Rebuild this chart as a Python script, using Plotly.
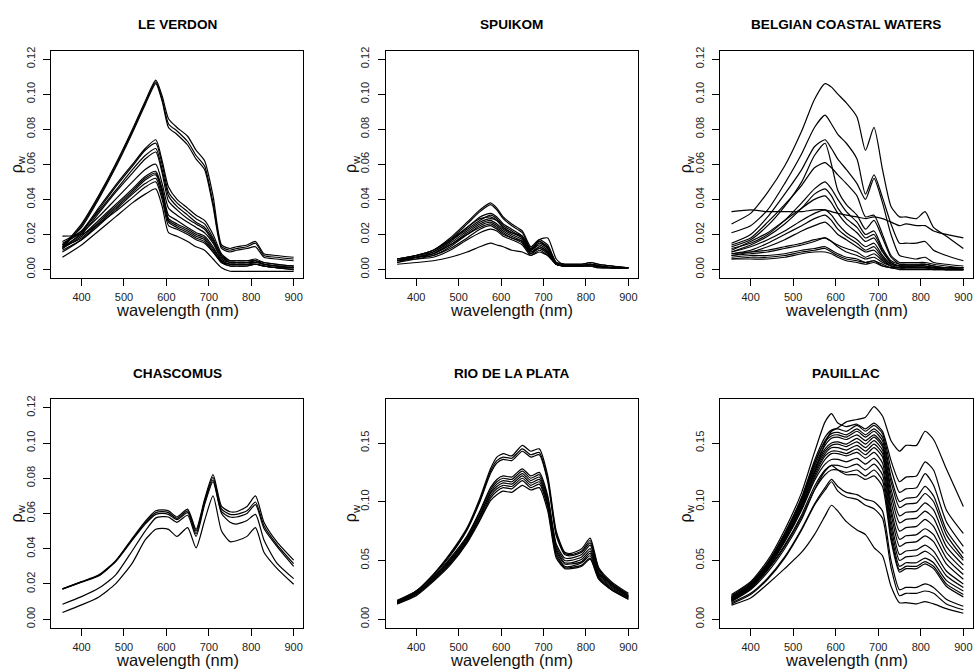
import plotly.graph_objects as go

# ---------------- data ----------------
WL = [355, 400, 440, 480, 520, 550, 575, 590, 605, 625, 650, 670, 690, 710, 730, 750, 765, 790, 810, 830, 860, 900]

TITLES = ["LE VERDON", "SPUIKOM", "BELGIAN COASTAL WATERS", "CHASCOMUS", "RIO DE LA PLATA", "PAUILLAC"]
X_TICKS = [400, 500, 600, 700, 800, 900]
Y_TICKS_LOW = [0.00, 0.02, 0.04, 0.06, 0.08, 0.10, 0.12]
Y_TICKS_HIGH = [0.00, 0.05, 0.10, 0.15]
X_LIM = [350, 900]
Y_LIM_LOW = [0.0, 0.12]
Y_LIM_HIGH = [0.0, 0.18]
X_TITLE = "wavelength (nm)"
Y_TITLE = "ρ<sub>w</sub>"

LE_VERDON = [
    [0.013, 0.026, 0.042, 0.060, 0.080, 0.096, 0.108, 0.099, 0.086, 0.081, 0.076, 0.068, 0.062, 0.042, 0.014, 0.012, 0.013, 0.014, 0.016, 0.009, 0.008, 0.007],
    [0.012, 0.025, 0.041, 0.059, 0.079, 0.095, 0.107, 0.097, 0.083, 0.079, 0.073, 0.065, 0.059, 0.038, 0.013, 0.011, 0.012, 0.013, 0.015, 0.008, 0.007, 0.006],
    [0.014, 0.024, 0.040, 0.058, 0.078, 0.094, 0.106, 0.096, 0.081, 0.077, 0.071, 0.063, 0.057, 0.036, 0.012, 0.010, 0.011, 0.012, 0.013, 0.007, 0.006, 0.005],
    [0.014, 0.022, 0.035, 0.048, 0.060, 0.069, 0.074, 0.062, 0.047, 0.040, 0.035, 0.031, 0.028, 0.020, 0.009, 0.005, 0.005, 0.005, 0.006, 0.004, 0.003, 0.002],
    [0.012, 0.021, 0.034, 0.047, 0.059, 0.068, 0.072, 0.060, 0.044, 0.038, 0.033, 0.029, 0.026, 0.018, 0.008, 0.005, 0.005, 0.005, 0.005, 0.004, 0.003, 0.002],
    [0.016, 0.022, 0.033, 0.045, 0.057, 0.065, 0.069, 0.057, 0.042, 0.036, 0.031, 0.027, 0.024, 0.017, 0.008, 0.004, 0.004, 0.004, 0.005, 0.003, 0.002, 0.002],
    [0.013, 0.020, 0.032, 0.044, 0.055, 0.063, 0.067, 0.055, 0.039, 0.034, 0.029, 0.026, 0.023, 0.016, 0.007, 0.004, 0.004, 0.004, 0.005, 0.003, 0.002, 0.001],
    [0.015, 0.021, 0.030, 0.040, 0.050, 0.057, 0.060, 0.049, 0.035, 0.031, 0.027, 0.024, 0.021, 0.015, 0.006, 0.004, 0.004, 0.004, 0.004, 0.003, 0.002, 0.001],
    [0.012, 0.019, 0.028, 0.037, 0.046, 0.053, 0.056, 0.046, 0.031, 0.028, 0.024, 0.021, 0.019, 0.013, 0.005, 0.003, 0.003, 0.003, 0.004, 0.003, 0.002, 0.001],
    [0.013, 0.018, 0.027, 0.036, 0.045, 0.052, 0.055, 0.045, 0.029, 0.026, 0.023, 0.020, 0.018, 0.012, 0.005, 0.003, 0.003, 0.003, 0.003, 0.002, 0.001, 0.001],
    [0.010, 0.017, 0.026, 0.035, 0.044, 0.051, 0.054, 0.044, 0.028, 0.025, 0.022, 0.019, 0.017, 0.011, 0.004, 0.003, 0.003, 0.003, 0.003, 0.002, 0.001, 0.001],
    [0.011, 0.017, 0.025, 0.034, 0.043, 0.049, 0.052, 0.042, 0.027, 0.024, 0.021, 0.018, 0.016, 0.010, 0.004, 0.002, 0.002, 0.002, 0.003, 0.002, 0.001, 0.000],
    [0.019, 0.020, 0.026, 0.033, 0.041, 0.047, 0.050, 0.040, 0.025, 0.023, 0.020, 0.017, 0.015, 0.010, 0.004, 0.002, 0.002, 0.002, 0.003, 0.002, 0.001, 0.000],
    [0.007, 0.014, 0.022, 0.030, 0.038, 0.043, 0.046, 0.036, 0.021, 0.019, 0.016, 0.013, 0.011, 0.006, 0.001, -0.001, -0.001, -0.001, -0.001, -0.001, -0.001, -0.001],
]

SPUIKOM = [
    [0.006, 0.008, 0.011, 0.018, 0.027, 0.034, 0.038, 0.035, 0.030, 0.026, 0.022, 0.013, 0.017, 0.014, 0.004, 0.003, 0.003, 0.003, 0.004, 0.003, 0.002, 0.001],
    [0.005, 0.008, 0.011, 0.017, 0.026, 0.033, 0.037, 0.034, 0.029, 0.025, 0.021, 0.012, 0.016, 0.013, 0.004, 0.003, 0.003, 0.003, 0.004, 0.003, 0.002, 0.001],
    [0.006, 0.008, 0.011, 0.017, 0.024, 0.030, 0.032, 0.030, 0.026, 0.023, 0.019, 0.011, 0.015, 0.012, 0.004, 0.003, 0.003, 0.003, 0.003, 0.002, 0.002, 0.001],
    [0.005, 0.007, 0.010, 0.016, 0.023, 0.028, 0.031, 0.029, 0.025, 0.022, 0.018, 0.011, 0.014, 0.011, 0.003, 0.002, 0.002, 0.002, 0.003, 0.002, 0.001, 0.001],
    [0.005, 0.007, 0.009, 0.015, 0.022, 0.027, 0.029, 0.028, 0.024, 0.021, 0.018, 0.011, 0.017, 0.018, 0.006, 0.002, 0.002, 0.002, 0.003, 0.002, 0.001, 0.001],
    [0.004, 0.007, 0.009, 0.014, 0.021, 0.026, 0.028, 0.026, 0.023, 0.020, 0.017, 0.010, 0.013, 0.010, 0.003, 0.002, 0.002, 0.002, 0.003, 0.002, 0.001, 0.001],
    [0.006, 0.007, 0.008, 0.013, 0.020, 0.025, 0.027, 0.025, 0.022, 0.019, 0.016, 0.009, 0.013, 0.010, 0.003, 0.002, 0.002, 0.002, 0.003, 0.002, 0.001, 0.001],
    [0.004, 0.006, 0.008, 0.012, 0.018, 0.023, 0.025, 0.023, 0.020, 0.018, 0.015, 0.009, 0.012, 0.009, 0.003, 0.002, 0.002, 0.002, 0.002, 0.002, 0.001, 0.001],
    [0.005, 0.006, 0.007, 0.011, 0.017, 0.021, 0.023, 0.022, 0.019, 0.017, 0.014, 0.008, 0.011, 0.008, 0.003, 0.002, 0.002, 0.002, 0.002, 0.001, 0.001, 0.001],
    [0.003, 0.004, 0.005, 0.007, 0.010, 0.013, 0.015, 0.014, 0.013, 0.011, 0.010, 0.008, 0.010, 0.008, 0.003, 0.002, 0.002, 0.002, 0.002, 0.001, 0.001, 0.001],
    [0.006, 0.008, 0.010, 0.016, 0.024, 0.029, 0.030, 0.028, 0.024, 0.021, 0.019, 0.012, 0.016, 0.012, 0.003, 0.002, 0.002, 0.002, 0.003, 0.002, 0.001, 0.001],
    [0.005, 0.007, 0.009, 0.014, 0.020, 0.024, 0.026, 0.024, 0.021, 0.018, 0.016, 0.010, 0.012, 0.009, 0.003, 0.002, 0.002, 0.002, 0.002, 0.002, 0.001, 0.001],
]

BELGIAN = [
    [0.026, 0.032, 0.044, 0.059, 0.079, 0.097, 0.106, 0.104, 0.100, 0.095, 0.087, 0.068, 0.081, 0.057, 0.036, 0.030, 0.030, 0.029, 0.033, 0.024, 0.019, 0.012],
    [0.021, 0.025, 0.034, 0.049, 0.066, 0.081, 0.088, 0.083, 0.077, 0.072, 0.063, 0.043, 0.054, 0.041, 0.026, 0.015, 0.015, 0.015, 0.016, 0.011, 0.008, 0.005],
    [0.033, 0.034, 0.033, 0.033, 0.033, 0.034, 0.034, 0.033, 0.032, 0.031, 0.030, 0.029, 0.030, 0.029, 0.027, 0.025, 0.026, 0.025, 0.025, 0.022, 0.020, 0.018],
    [0.015, 0.020, 0.030, 0.043, 0.057, 0.070, 0.074, 0.069, 0.063, 0.057, 0.049, 0.040, 0.052, 0.038, 0.020, 0.008, 0.007, 0.006, 0.007, 0.004, 0.003, 0.002],
    [0.013, 0.017, 0.025, 0.036, 0.050, 0.065, 0.072, 0.060, 0.045, 0.037, 0.031, 0.023, 0.028, 0.018, 0.007, 0.003, 0.003, 0.003, 0.003, 0.002, 0.001, 0.001],
    [0.014, 0.018, 0.027, 0.037, 0.048, 0.058, 0.061, 0.058, 0.054, 0.049, 0.042, 0.030, 0.031, 0.020, 0.008, 0.004, 0.004, 0.004, 0.004, 0.003, 0.002, 0.001],
    [0.012, 0.015, 0.020, 0.028, 0.038, 0.046, 0.050, 0.046, 0.040, 0.033, 0.027, 0.020, 0.022, 0.012, 0.005, 0.003, 0.003, 0.003, 0.003, 0.002, 0.001, 0.001],
    [0.010, 0.014, 0.019, 0.026, 0.035, 0.043, 0.046, 0.042, 0.035, 0.029, 0.024, 0.018, 0.020, 0.011, 0.004, 0.002, 0.002, 0.002, 0.003, 0.002, 0.001, 0.001],
    [0.011, 0.016, 0.021, 0.028, 0.035, 0.040, 0.042, 0.038, 0.032, 0.026, 0.021, 0.016, 0.018, 0.010, 0.004, 0.002, 0.002, 0.002, 0.002, 0.001, 0.001, 0.001],
    [0.010, 0.013, 0.017, 0.022, 0.028, 0.032, 0.034, 0.031, 0.026, 0.021, 0.017, 0.013, 0.015, 0.008, 0.003, 0.002, 0.002, 0.002, 0.002, 0.001, 0.001, 0.001],
    [0.009, 0.011, 0.015, 0.020, 0.025, 0.029, 0.031, 0.028, 0.023, 0.019, 0.015, 0.011, 0.013, 0.007, 0.003, 0.002, 0.002, 0.002, 0.002, 0.001, 0.001, 0.001],
    [0.008, 0.010, 0.013, 0.017, 0.022, 0.025, 0.027, 0.024, 0.020, 0.017, 0.013, 0.010, 0.011, 0.006, 0.002, 0.001, 0.001, 0.001, 0.001, 0.001, 0.000, 0.000],
    [0.008, 0.009, 0.010, 0.012, 0.014, 0.016, 0.018, 0.016, 0.013, 0.010, 0.008, 0.006, 0.007, 0.004, 0.002, 0.001, 0.001, 0.001, 0.001, 0.001, 0.000, 0.000],
    [0.007, 0.008, 0.008, 0.009, 0.011, 0.012, 0.013, 0.011, 0.009, 0.007, 0.006, 0.004, 0.005, 0.003, 0.001, 0.001, 0.001, 0.001, 0.001, 0.001, 0.000, 0.000],
    [0.006, 0.007, 0.007, 0.008, 0.010, 0.011, 0.012, 0.010, 0.008, 0.006, 0.005, 0.004, 0.005, 0.002, 0.001, 0.001, 0.001, 0.001, 0.001, 0.000, 0.000, 0.000],
    [0.006, 0.006, 0.006, 0.007, 0.009, 0.010, 0.010, 0.009, 0.007, 0.005, 0.004, 0.003, 0.004, 0.002, 0.001, 0.000, 0.000, 0.000, 0.000, 0.000, 0.000, 0.000],
    [0.009, 0.010, 0.011, 0.013, 0.015, 0.017, 0.018, 0.016, 0.014, 0.012, 0.010, 0.007, 0.009, 0.005, 0.002, 0.001, 0.001, 0.001, 0.001, 0.001, 0.001, 0.000],
]

CHASCOMUS = [
    [0.0172, 0.0213, 0.0250, 0.0330, 0.0460, 0.0555, 0.0615, 0.0620, 0.0615, 0.0580, 0.0625, 0.0510, 0.0680, 0.0820, 0.0640, 0.0610, 0.0610, 0.0640, 0.0700, 0.0550, 0.0440, 0.0335],
    [0.0172, 0.0212, 0.0248, 0.0328, 0.0455, 0.0548, 0.0605, 0.0610, 0.0605, 0.0572, 0.0615, 0.0500, 0.0670, 0.0805, 0.0625, 0.0595, 0.0595, 0.0615, 0.0665, 0.0530, 0.0425, 0.0315],
    [0.0170, 0.0210, 0.0245, 0.0325, 0.0450, 0.0540, 0.0595, 0.0600, 0.0595, 0.0565, 0.0605, 0.0485, 0.0660, 0.0790, 0.0610, 0.0580, 0.0580, 0.0600, 0.0650, 0.0515, 0.0415, 0.0300],
    [0.0085, 0.0128, 0.0175, 0.0250, 0.0390, 0.0500, 0.0575, 0.0582, 0.0580, 0.0550, 0.0590, 0.0470, 0.0650, 0.0780, 0.0600, 0.0550, 0.0540, 0.0560, 0.0595, 0.0450, 0.0320, 0.0230],
    [0.0038, 0.0081, 0.0125, 0.0200, 0.0320, 0.0450, 0.0510, 0.0515, 0.0510, 0.0470, 0.0520, 0.0405, 0.0560, 0.0700, 0.0500, 0.0440, 0.0445, 0.0470, 0.0520, 0.0380, 0.0290, 0.0198],
]

RIO_DE_LA_PLATA = [
    [0.015, 0.024, 0.038, 0.056, 0.078, 0.103, 0.128, 0.138, 0.141, 0.139, 0.148, 0.143, 0.145, 0.122, 0.075, 0.057, 0.056, 0.060, 0.069, 0.044, 0.032, 0.022],
    [0.015, 0.024, 0.038, 0.055, 0.077, 0.101, 0.126, 0.135, 0.138, 0.137, 0.145, 0.140, 0.142, 0.119, 0.073, 0.056, 0.055, 0.058, 0.067, 0.043, 0.031, 0.021],
    [0.014, 0.023, 0.037, 0.054, 0.076, 0.100, 0.124, 0.133, 0.136, 0.135, 0.143, 0.138, 0.140, 0.117, 0.071, 0.055, 0.054, 0.057, 0.065, 0.042, 0.030, 0.020],
    [0.016, 0.024, 0.036, 0.052, 0.071, 0.092, 0.112, 0.119, 0.122, 0.121, 0.128, 0.122, 0.125, 0.105, 0.064, 0.052, 0.052, 0.055, 0.063, 0.040, 0.030, 0.020],
    [0.015, 0.023, 0.035, 0.051, 0.070, 0.091, 0.110, 0.117, 0.120, 0.119, 0.126, 0.120, 0.123, 0.103, 0.062, 0.050, 0.050, 0.053, 0.060, 0.039, 0.029, 0.019],
    [0.014, 0.022, 0.035, 0.050, 0.069, 0.089, 0.108, 0.115, 0.118, 0.117, 0.124, 0.118, 0.121, 0.101, 0.060, 0.048, 0.048, 0.051, 0.058, 0.038, 0.028, 0.019],
    [0.015, 0.022, 0.034, 0.049, 0.068, 0.088, 0.107, 0.113, 0.116, 0.115, 0.122, 0.116, 0.119, 0.099, 0.058, 0.047, 0.047, 0.049, 0.056, 0.037, 0.027, 0.018],
    [0.014, 0.021, 0.033, 0.048, 0.067, 0.087, 0.105, 0.111, 0.114, 0.113, 0.120, 0.114, 0.117, 0.097, 0.056, 0.045, 0.045, 0.048, 0.054, 0.036, 0.026, 0.018],
    [0.013, 0.021, 0.033, 0.047, 0.066, 0.085, 0.103, 0.109, 0.112, 0.111, 0.118, 0.112, 0.115, 0.095, 0.054, 0.044, 0.044, 0.046, 0.052, 0.035, 0.025, 0.017],
    [0.013, 0.020, 0.032, 0.046, 0.065, 0.084, 0.101, 0.106, 0.109, 0.108, 0.114, 0.110, 0.112, 0.092, 0.052, 0.043, 0.043, 0.045, 0.051, 0.034, 0.025, 0.017],
]

PAUILLAC = [
    [0.016, 0.027, 0.044, 0.068, 0.097, 0.125, 0.150, 0.160, 0.163, 0.168, 0.170, 0.172, 0.181, 0.173, 0.152, 0.143, 0.148, 0.148, 0.160, 0.153, 0.128, 0.096],
    [0.021, 0.032, 0.050, 0.076, 0.108, 0.142, 0.168, 0.175, 0.167, 0.164, 0.166, 0.162, 0.167, 0.160, 0.135, 0.117, 0.121, 0.122, 0.134, 0.127, 0.093, 0.073],
    [0.019, 0.030, 0.048, 0.073, 0.104, 0.135, 0.155, 0.161, 0.162, 0.160, 0.165, 0.160, 0.165, 0.158, 0.128, 0.108, 0.111, 0.112, 0.124, 0.114, 0.083, 0.062],
    [0.018, 0.029, 0.047, 0.072, 0.102, 0.132, 0.152, 0.158, 0.159, 0.157, 0.162, 0.157, 0.162, 0.155, 0.121, 0.100, 0.103, 0.104, 0.113, 0.105, 0.076, 0.056],
    [0.020, 0.031, 0.048, 0.073, 0.103, 0.133, 0.151, 0.156, 0.157, 0.155, 0.160, 0.155, 0.160, 0.152, 0.117, 0.095, 0.098, 0.099, 0.107, 0.100, 0.072, 0.052],
    [0.017, 0.028, 0.046, 0.070, 0.100, 0.130, 0.148, 0.154, 0.155, 0.153, 0.157, 0.152, 0.157, 0.149, 0.111, 0.088, 0.091, 0.092, 0.099, 0.093, 0.067, 0.050],
    [0.019, 0.030, 0.047, 0.071, 0.100, 0.128, 0.145, 0.150, 0.151, 0.149, 0.154, 0.149, 0.155, 0.147, 0.106, 0.082, 0.085, 0.086, 0.092, 0.086, 0.062, 0.046],
    [0.018, 0.029, 0.046, 0.069, 0.098, 0.126, 0.143, 0.148, 0.149, 0.147, 0.151, 0.146, 0.152, 0.144, 0.100, 0.075, 0.078, 0.079, 0.085, 0.079, 0.057, 0.042],
    [0.016, 0.027, 0.044, 0.067, 0.096, 0.124, 0.141, 0.146, 0.146, 0.144, 0.148, 0.143, 0.149, 0.141, 0.094, 0.068, 0.071, 0.072, 0.077, 0.072, 0.052, 0.038],
    [0.017, 0.028, 0.045, 0.068, 0.096, 0.122, 0.139, 0.143, 0.143, 0.141, 0.145, 0.140, 0.146, 0.138, 0.090, 0.062, 0.065, 0.066, 0.071, 0.066, 0.047, 0.034],
    [0.015, 0.026, 0.043, 0.066, 0.094, 0.120, 0.136, 0.141, 0.141, 0.139, 0.142, 0.137, 0.142, 0.133, 0.084, 0.055, 0.058, 0.059, 0.063, 0.058, 0.041, 0.030],
    [0.018, 0.028, 0.044, 0.066, 0.093, 0.118, 0.132, 0.136, 0.136, 0.134, 0.137, 0.132, 0.137, 0.128, 0.079, 0.050, 0.053, 0.054, 0.058, 0.053, 0.037, 0.027],
    [0.016, 0.026, 0.042, 0.063, 0.089, 0.113, 0.127, 0.131, 0.131, 0.129, 0.132, 0.127, 0.132, 0.123, 0.074, 0.045, 0.048, 0.048, 0.052, 0.048, 0.033, 0.024],
    [0.017, 0.027, 0.042, 0.062, 0.087, 0.110, 0.123, 0.127, 0.127, 0.125, 0.127, 0.122, 0.127, 0.118, 0.070, 0.042, 0.045, 0.045, 0.049, 0.045, 0.030, 0.021],
    [0.015, 0.025, 0.040, 0.060, 0.085, 0.110, 0.126, 0.131, 0.127, 0.123, 0.123, 0.119, 0.122, 0.113, 0.067, 0.040, 0.043, 0.043, 0.047, 0.043, 0.028, 0.019],
    [0.014, 0.022, 0.035, 0.053, 0.077, 0.098, 0.112, 0.119, 0.113, 0.108, 0.106, 0.102, 0.100, 0.092, 0.050, 0.025, 0.027, 0.027, 0.030, 0.027, 0.017, 0.011],
    [0.013, 0.021, 0.034, 0.052, 0.076, 0.097, 0.110, 0.117, 0.109, 0.104, 0.102, 0.097, 0.094, 0.086, 0.044, 0.020, 0.022, 0.022, 0.024, 0.022, 0.013, 0.008],
    [0.012, 0.018, 0.030, 0.043, 0.057, 0.072, 0.088, 0.097, 0.092, 0.083, 0.076, 0.072, 0.061, 0.054, 0.028, 0.014, 0.014, 0.013, 0.015, 0.013, 0.009, 0.005],
]

PANELS = [LE_VERDON, SPUIKOM, BELGIAN, CHASCOMUS, RIO_DE_LA_PLATA, PAUILLAC]
Y_LIMS = [Y_LIM_LOW, Y_LIM_LOW, Y_LIM_LOW, Y_LIM_LOW, Y_LIM_HIGH, Y_LIM_HIGH]
Y_TICKS = [Y_TICKS_LOW, Y_TICKS_LOW, Y_TICKS_LOW, Y_TICKS_LOW, Y_TICKS_HIGH, Y_TICKS_HIGH]

# ---------------- layout geometry (pixels) ----------------
W, H = 974, 671
COL_X = [(51, 303), (385.7, 637.7), (720, 972.7)]
ROW_Y = [(47, 276), (398.3, 628.3)]
FONT = "Liberation Sans, Arial, Helvetica, sans-serif"


def pad(lim):
    d = (lim[1] - lim[0]) * 0.04
    return [lim[0] - d, lim[1] + d]


fig = go.Figure()
annotations = []
layout = dict(
    width=W, height=H,
    margin=dict(l=0, r=0, t=0, b=0),
    paper_bgcolor="white", plot_bgcolor="white",
    showlegend=False,
    font=dict(family=FONT, color="black"),
)

for k, curves in enumerate(PANELS):
    r, c = divmod(k, 3)
    x0, x1 = COL_X[c]
    y0, y1 = ROW_Y[r]
    ax = "" if k == 0 else str(k + 1)
    for curve in curves:
        fig.add_trace(go.Scatter(
            x=WL, y=curve, mode="lines",
            line=dict(color="black", width=1.2, shape="spline", smoothing=0.6),
            xaxis="x" + ax, yaxis="y" + ax, hoverinfo="skip", showlegend=False,
        ))
    layout["xaxis" + ax] = dict(
        domain=[x0 / W, x1 / W], range=pad(X_LIM), anchor="y" + ax,
        tickvals=X_TICKS, ticktext=[str(v) for v in X_TICKS],
        ticks="outside", ticklen=7, tickwidth=1, tickcolor="black",
        showline=True, mirror=True, linecolor="black", linewidth=1,
        showgrid=False, zeroline=False,
        tickfont=dict(size=11, family=FONT, color="#222"),
        ticklabelstandoff=2,
    )
    yt = Y_TICKS[k]
    layout["yaxis" + ax] = dict(
        domain=[1 - y1 / H, 1 - y0 / H], range=pad(Y_LIMS[k]), anchor="x" + ax,
        tickvals=yt, ticktext=["%.2f" % v for v in yt], tickangle=-90,
        ticks="outside", ticklen=7, tickwidth=1, tickcolor="black",
        showline=True, mirror=True, linecolor="black", linewidth=1,
        showgrid=False, zeroline=False,
        tickfont=dict(size=11, family=FONT, color="#222"),
        ticklabelstandoff=4,
    )
    cx = (x0 + x1) / 2 / W
    # panel title
    annotations.append(dict(
        text="<b>" + TITLES[k] + "</b>", x=cx, y=1 - (y0 - 26.5) / H,
        xref="paper", yref="paper", xanchor="center", yanchor="middle",
        showarrow=False, font=dict(size=13.6, family=FONT, color="black"),
    ))
    # x title
    annotations.append(dict(
        text=X_TITLE, x=cx, y=1 - (y1 + 32.5) / H,
        xref="paper", yref="paper", xanchor="center", yanchor="middle",
        showarrow=False, font=dict(size=16.5, family=FONT, color="#111"),
    ))
    # y title
    annotations.append(dict(
        text=Y_TITLE, x=(x0 - 34) / W, y=1 - (y0 + y1) / 2 / H, textangle=-90,
        xref="paper", yref="paper", xanchor="center", yanchor="middle",
        showarrow=False, font=dict(size=16, family=FONT, color="#111"),
    ))

layout["annotations"] = annotations
fig.update_layout(**layout)
fig.write_html("out.html", config={"displayModeBar": False},
               post_script="document.body.style.margin='0px';")
